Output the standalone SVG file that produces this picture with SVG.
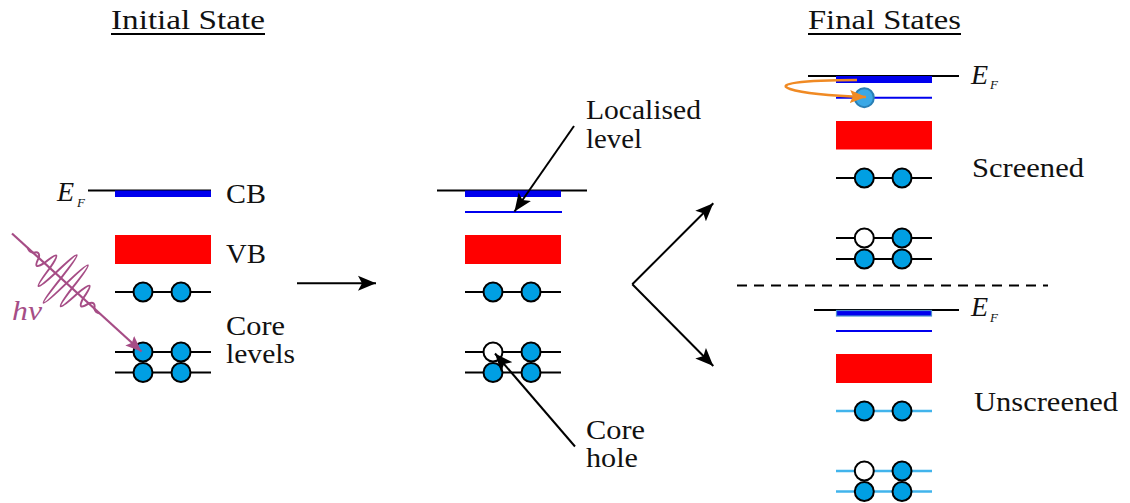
<svg xmlns="http://www.w3.org/2000/svg" width="1130" height="503" viewBox="0 0 1130 503">
<defs>
<marker id="ah" markerUnits="userSpaceOnUse" viewBox="0 0 20 16" markerWidth="20" markerHeight="16" refX="18" refY="8" orient="auto"><path d="M0,0.5 L18,8 L0,15.5 L4,8 Z" fill="#000"/></marker>
<marker id="ahp" markerUnits="userSpaceOnUse" viewBox="0 0 18 14" markerWidth="18" markerHeight="14" refX="16" refY="7" orient="auto"><path d="M0,0.5 L16,7 L0,13.5 L3,7 Z" fill="#a64d86"/></marker>
<marker id="aho" markerUnits="userSpaceOnUse" viewBox="0 0 18 14" markerWidth="18" markerHeight="14" refX="16" refY="7" orient="auto"><path d="M0,0.5 L16,7 L0,13.5 L3,7 Z" fill="#f08a24"/></marker>
<circle id="el" r="9.5" fill="#009fe3" stroke="#000" stroke-width="2"/>
<circle id="ho" r="9.5" fill="#fff" stroke="#000" stroke-width="2"/>
</defs>

<g id="titles" fill="#111">
<text font-family="Liberation Serif" font-size="28" x="111" y="29" textLength="154" lengthAdjust="spacingAndGlyphs">Initial State</text>
<line x1="111" y1="34" x2="265" y2="34" stroke="#000" stroke-width="1.8"/>
<text font-family="Liberation Serif" font-size="28" x="808" y="29" textLength="153" lengthAdjust="spacingAndGlyphs">Final States</text>
<line x1="808" y1="34" x2="961" y2="34" stroke="#000" stroke-width="1.8"/>
</g>

<g id="initial-state" fill="#111">
<line x1="88" y1="190.5" x2="211" y2="190.5" stroke="#000" stroke-width="2"/>
<rect x="115" y="190.5" width="96" height="6.5" fill="#0000ee"/>
<text font-family="Liberation Serif" font-size="28" font-style="italic" x="57" y="201">E</text><text font-family="Liberation Serif" font-style="italic" font-size="13" x="77" y="207">F</text>
<text font-family="Liberation Serif" font-size="28" x="226" y="203" textLength="40" lengthAdjust="spacingAndGlyphs">CB</text>
<rect x="115" y="235" width="96" height="29" fill="#ff0000"/>
<text font-family="Liberation Serif" font-size="28" x="226" y="263" textLength="40" lengthAdjust="spacingAndGlyphs">VB</text>
<g stroke="#000" stroke-width="2">
<line x1="115" y1="292" x2="211" y2="292"/>
<line x1="115" y1="352" x2="211" y2="352"/>
<line x1="115" y1="372.5" x2="211" y2="372.5"/>
</g>
<use href="#el" x="143" y="292"/><use href="#el" x="181" y="292"/>
<use href="#el" x="143" y="372.5"/><use href="#el" x="181" y="372.5"/>
<use href="#el" x="143" y="352"/><use href="#el" x="181" y="352"/>
<text font-family="Liberation Serif" font-size="28" x="226" y="335" textLength="59" lengthAdjust="spacingAndGlyphs">Core</text>
<text font-family="Liberation Serif" font-size="28" x="226" y="363" textLength="69" lengthAdjust="spacingAndGlyphs">levels</text>
</g>

<g id="photon">
<line x1="12" y1="233.5" x2="141.5" y2="351.5" stroke="#a64d86" stroke-width="2.2" marker-end="url(#ahp)"/>
<path transform="translate(12,233.5) rotate(42.3)" fill="none" stroke="#a64d86" stroke-width="2" d="M21.25,0 Q25,2.4 28.75,0 Q32.5,-6.5 36.25,0 Q40,14.5 43.75,0 Q47.5,-27 51.25,0 Q55,42 58.75,0 Q62.5,-55 66.25,0 Q70,60 73.75,0 Q77.5,-55 81.25,0 Q85,42 88.75,0 Q92.5,-27 96.25,0 Q100,14.5 103.75,0 Q107.5,-6.5 111.25,0 Q115,2.4 118.75,0"/>
<text font-family="Liberation Serif" font-size="28" font-style="italic" fill="#a64d86" x="12" y="320" textLength="30" lengthAdjust="spacingAndGlyphs">h&#957;</text>
</g>

<g id="intermediate-state" fill="#111">
<line x1="437" y1="190.5" x2="587" y2="190.5" stroke="#000" stroke-width="2"/>
<rect x="465" y="190.5" width="96" height="6.5" fill="#0000ee"/>
<line x1="465" y1="212" x2="562" y2="212" stroke="#0000ee" stroke-width="2"/>
<rect x="465" y="235" width="96" height="29" fill="#ff0000"/>
<g stroke="#000" stroke-width="2">
<line x1="465" y1="292" x2="561" y2="292"/>
<line x1="465" y1="352" x2="561" y2="352"/>
<line x1="465" y1="372.5" x2="561" y2="372.5"/>
</g>
<use href="#el" x="493" y="292"/><use href="#el" x="531" y="292"/>
<use href="#el" x="493" y="372.5"/><use href="#el" x="531" y="372.5"/>
<use href="#ho" x="493" y="352"/><use href="#el" x="531" y="352"/>
<text font-family="Liberation Serif" font-size="28" x="586" y="119" textLength="115" lengthAdjust="spacingAndGlyphs">Localised</text>
<text font-family="Liberation Serif" font-size="28" x="586" y="148" textLength="56" lengthAdjust="spacingAndGlyphs">level</text>
<text font-family="Liberation Serif" font-size="28" x="586" y="439" textLength="59" lengthAdjust="spacingAndGlyphs">Core</text>
<text font-family="Liberation Serif" font-size="28" x="586" y="467" textLength="52" lengthAdjust="spacingAndGlyphs">hole</text>
</g>

<g id="final-screened" fill="#111">
<line x1="808" y1="76" x2="959" y2="76" stroke="#000" stroke-width="2"/>
<rect x="836" y="76" width="96" height="7" fill="#0000ee"/>
<line x1="836" y1="97.7" x2="932" y2="97.7" stroke="#0000ee" stroke-width="2"/>
<circle cx="864.3" cy="97.7" r="9.5" fill="#3aa8e6" stroke="#2a7fb5" stroke-width="2"/>
<text font-family="Liberation Serif" font-size="28" font-style="italic" x="971" y="84">E</text><text font-family="Liberation Serif" font-style="italic" font-size="13" x="990" y="89">F</text>
<rect x="836" y="121" width="96" height="28.5" fill="#ff0000"/>
<g stroke="#000" stroke-width="2">
<line x1="836" y1="178" x2="932" y2="178"/>
<line x1="836" y1="238" x2="932" y2="238"/>
<line x1="836" y1="259" x2="932" y2="259"/>
</g>
<use href="#el" x="864.3" y="178"/><use href="#el" x="902" y="178"/>
<use href="#el" x="864.3" y="259"/><use href="#el" x="902" y="259"/>
<use href="#ho" x="864.3" y="238"/><use href="#el" x="902" y="238"/>
<text font-family="Liberation Serif" font-size="28" x="972" y="177" textLength="112" lengthAdjust="spacingAndGlyphs">Screened</text>
</g>

<g id="final-unscreened" fill="#111">
<line x1="814" y1="310" x2="959" y2="310" stroke="#000" stroke-width="2"/>
<rect x="836.5" y="310.5" width="95" height="5.5" fill="#0000ee" stroke="#4a8fd0" stroke-width="1.2"/>
<line x1="836" y1="331" x2="932" y2="331" stroke="#0000ee" stroke-width="2"/>
<text font-family="Liberation Serif" font-size="28" font-style="italic" x="971" y="316">E</text><text font-family="Liberation Serif" font-style="italic" font-size="13" x="990" y="322">F</text>
<rect x="836" y="354" width="96" height="29" fill="#ff0000"/>
<g stroke="#41b4ec" stroke-width="2.5">
<line x1="836" y1="411" x2="932" y2="411"/>
<line x1="836" y1="471" x2="932" y2="471"/>
<line x1="836" y1="491.5" x2="932" y2="491.5"/>
</g>
<use href="#el" x="864.3" y="411"/><use href="#el" x="902" y="411"/>
<use href="#el" x="864.3" y="491.5"/><use href="#el" x="902" y="491.5"/>
<use href="#ho" x="864.3" y="471"/><use href="#el" x="902" y="471"/>
<text font-family="Liberation Serif" font-size="28" x="974" y="411" textLength="144" lengthAdjust="spacingAndGlyphs">Unscreened</text>
</g>

<g id="connectors" stroke="#000" stroke-width="2" fill="none">
<line x1="297" y1="283.3" x2="376" y2="283.3" marker-end="url(#ah)"/>
<line x1="574" y1="126" x2="514.5" y2="211.5" marker-end="url(#ah)"/>
<line x1="575" y1="446.5" x2="495" y2="353.5" marker-end="url(#ah)"/>
<line x1="632.3" y1="284.3" x2="713.3" y2="203.3" marker-end="url(#ah)"/>
<line x1="632.3" y1="284.3" x2="713.3" y2="366" marker-end="url(#ah)"/>
<line x1="737" y1="285.5" x2="1048" y2="285.5" stroke-dasharray="10,7"/>
<path d="M857,80 C800,80 775,84 790,89 C805,94 835,96 866,97" stroke="#f08a24" stroke-width="2.5" marker-end="url(#aho)"/>
</g>
</svg>
